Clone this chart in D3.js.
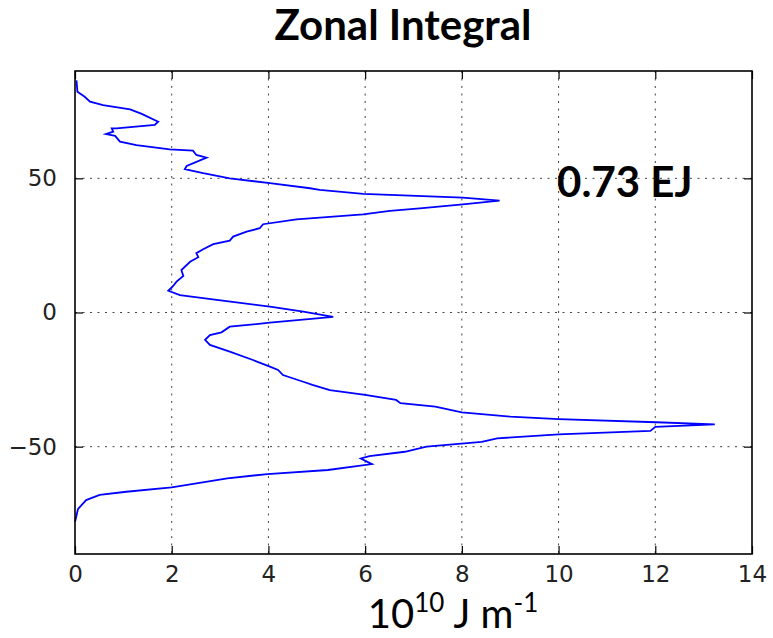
<!DOCTYPE html>
<html>
<head>
<meta charset="utf-8">
<script src="https://cdn.jsdelivr.net/npm/d3@7"></script>
<style>
  body { margin: 0; background: #fff; }
  .tick text { font-family: "DejaVu Sans", sans-serif; }
</style>
</head>
<body>
<div class="chart"></div>
<script>
// latitude (deg) and zonal integral (10^10 J m^-1)
var lats = [86.5, 82.3, 80.4, 78.6, 77.3, 75.7, 74.0, 71.1, 69.9, 68.6, 68.6, 67.4, 66.5, 65.8, 63.7,
  62.4, 60.8, 60.3, 58.7, 57.7, 54.6, 53.4, 51.9, 50.0, 48.2, 46.3, 45.7, 44.2, 43.2, 42.8, 41.7,
  40.3, 38.8, 37.9, 36.6, 34.7, 32.9, 31.4, 30.1, 28.3, 26.8, 25.5, 23.6, 22.1, 20.6, 18.9, 15.8,
  13.6, 11.5, 9.9, 8.1, 6.5, 4.7, 2.2, 0.3, -1.6, -3.8, -5.3, -7.4, -8.4, -10.2, -12.1, -14.6,
  -17.7, -20.2, -21.4, -23.3, -25.8, -27.0, -28.9, -30.7, -32.6, -33.8, -35.1, -37.2, -38.8,
  -39.7, -40.9, -41.7, -42.6, -44.1, -45.4, -46.9, -48.2, -50.0, -51.9, -53.5, -54.4, -56.5,
  -58.7, -60.2, -61.8, -65.2, -66.8, -68.0, -69.9, -73.3, -77.3, -78.0];
var values = [0.03, 0.05, 0.2, 0.31, 0.58, 1.14, 1.38, 1.72, 1.65, 0.86, 0.76, 0.79, 0.64, 0.83, 0.93,
  1.27, 1.96, 2.44, 2.51, 2.72, 2.31, 2.27, 2.65, 3.2, 4.03, 4.86, 5.06, 5.96, 7.47, 8.02, 8.78,
  8.02, 7.13, 6.51, 5.96, 4.58, 3.89, 3.82, 3.55, 3.27, 3.2, 2.86, 2.65, 2.51, 2.55, 2.38, 2.2,
  2.24, 2.1, 2.03, 1.93, 2.17, 2.93, 4.03, 4.72, 5.34, 4.03, 3.2, 3.03, 2.79, 2.69, 2.79, 3.2,
  3.68, 4.03, 4.2, 4.3, 4.72, 4.91, 5.27, 6.0, 6.64, 6.73, 7.45, 8.0, 9.0,
  10.0, 12.02, 13.23, 12.0, 11.9, 10.0, 8.73, 8.41, 7.27, 6.82, 6.09, 5.91, 6.14,
  5.23, 3.98, 3.15, 2.0, 1.06, 0.51, 0.23, 0.06, 0.01, 0.0];
var xTicks = [0, 2, 4, 6, 8, 10, 12, 14];
var yTicks = [-50, 0, 50];

var data = lats.map((d, i) => ({lat: d, v: values[i]}));

var margin = { top: 71, right: 21, bottom: 84, left: 75 };
var width = 773 - margin.left - margin.right;
var height = 638 - margin.top - margin.bottom;

var root = d3.select('.chart')
  .append('svg')
    .attr('width', 773)
    .attr('height', 638);

var svg = root.append('g')
    .attr('transform', `translate(${margin.left}, ${margin.top})`);

var xScale = d3.scaleLinear().domain([0, 14]).range([0, width]);
var yScale = d3.scaleLinear().domain([-90, 90]).range([height, 0]);

// dotted grid
svg.append('g')
  .selectAll('line')
  .data(xTicks.slice(1, -1))
  .enter().append('line')
    .attr('x1', d => xScale(d)).attr('x2', d => xScale(d))
    .attr('y1', 0).attr('y2', height)
    .attr('stroke', '#444').attr('stroke-width', 1)
    .attr('stroke-dasharray', '2,5.5');
svg.append('g')
  .selectAll('line')
  .data(yTicks)
  .enter().append('line')
    .attr('x1', 0).attr('x2', width)
    .attr('y1', d => yScale(d)).attr('y2', d => yScale(d))
    .attr('stroke', '#444').attr('stroke-width', 1)
    .attr('stroke-dasharray', '2,5.5');

// axes with inward ticks
function styleAxis(g) {
  g.select('.domain').remove();
  g.selectAll('.tick line').attr('stroke', '#000').attr('stroke-width', 1.2);
  g.selectAll('.tick text').attr('fill', '#222').style('font-size', '23px');
}
svg.append('g')
  .attr('transform', `translate(0, ${height})`)
  .call(d3.axisBottom(xScale).tickValues(xTicks).tickSizeInner(-8).tickPadding(12).tickFormat(d3.format('d')))
  .call(styleAxis);
svg.append('g')
  .call(d3.axisTop(xScale).tickValues(xTicks).tickSizeInner(-8).tickFormat(''))
  .call(styleAxis);
svg.append('g')
  .call(d3.axisLeft(yScale).tickValues(yTicks).tickSizeInner(-8).tickPadding(18).tickFormat(d => d < 0 ? '\u2212' + Math.abs(d) : d))
  .call(styleAxis);
svg.append('g')
  .attr('transform', `translate(${width}, 0)`)
  .call(d3.axisRight(yScale).tickValues(yTicks).tickSizeInner(-8).tickFormat(''))
  .call(styleAxis);

// curve
var line = d3.line()
  .x(d => xScale(d.v))
  .y(d => yScale(d.lat));
svg.append('path')
  .datum(data)
  .attr('d', line)
  .attr('fill', 'none')
  .attr('stroke', '#0000ff')
  .attr('stroke-width', 1.8);

// frame
svg.append('rect')
  .attr('width', width).attr('height', height)
  .attr('fill', 'none').attr('stroke', '#000').attr('stroke-width', 1.6);

svg.append('text')
  .attr('x', xScale(11.37)).attr('y', yScale(43))
  .attr('text-anchor', 'middle')
  .style('font-family', 'Lato, sans-serif')
  .style('font-weight', 'bold')
  .style('font-size', '42px')
  .text('0.73 EJ');

root.append('text')
  .attr('x', 403).attr('y', 40)
  .attr('text-anchor', 'middle')
  .style('font-family', 'Lato, sans-serif')
  .style('font-weight', 'bold')
  .style('font-size', '42px')
  .text('Zonal Integral');

var xl = root.append('text')
  .attr('x', 453).attr('y', 628)
  .attr('text-anchor', 'middle')
  .style('font-family', 'Lato, sans-serif')
  .style('font-size', '40px');
xl.append('tspan').text('10');
xl.append('tspan').attr('dy', -16).style('font-size', '26px').text('10');
xl.append('tspan').attr('dy', 16).text(' J m');
xl.append('tspan').attr('dy', -16).style('font-size', '26px').text('-1');
</script>
</body>
</html>
